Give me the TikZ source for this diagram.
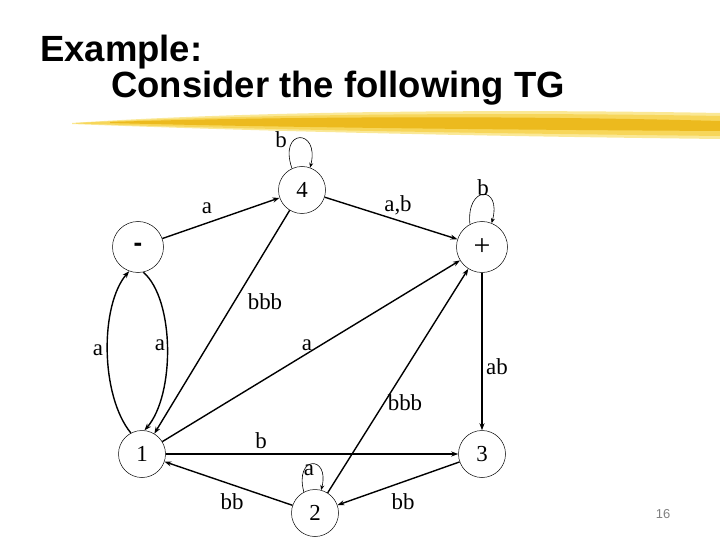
\documentclass[tikz,border=0pt]{standalone}
\usepackage{fontspec}
\setmainfont{Liberation Serif}
\newfontfamily\titlefont{Liberation Sans}
\usetikzlibrary{arrows.meta}
\definecolor{brushA}{RGB}{236,186,30}
\definecolor{brushB}{RGB}{247,214,90}
\definecolor{brushC}{RGB}{250,232,150}
\begin{document}
\begin{tikzpicture}[x=1bp,y=-1bp,
  state/.style={circle,draw,line width=0.5bp,minimum size=47bp,inner sep=0pt,font=\fontsize{23}{23}\selectfont},
  bigstate/.style={state,minimum size=51bp},
  edge/.style={line width=1.4bp,-{Stealth[length=7bp,width=5bp]}},
  loopedge/.style={line width=0.6bp,-{Stealth[length=5bp,width=4bp]}},
  lab/.style={font=\fontsize{23}{23}\selectfont,inner sep=0pt},
  title/.style={anchor=base west,inner sep=0pt,font=\titlefont\bfseries\fontsize{36.6}{36.6}\selectfont}]
\useasboundingbox (0,0) rectangle (720,540);
% title
\node[title] (t1) at (40,62) {Example:};
\node[title] (t2) at (111,98) {Consider the following TG};
% brush stroke
\fill[brushC] (72,123) .. controls (250,111) and (500,109) .. (720,113) -- (720,139) .. controls (550,137) and (300,133) .. (72,124) -- cycle;
\fill[brushB] (76,123) .. controls (250,114) and (500,112) .. (720,116) -- (720,136) .. controls (550,134) and (300,131) .. (76,123.5) -- cycle;
\fill[brushA] (110,122) .. controls (260,117) and (500,115) .. (720,121) -- (720,131) .. controls (550,130) and (300,128) .. (110,123) -- cycle;
% states
\node[state] (n4) at (302,190) {4};
\node[bigstate] (m) at (138,247) {\titlefont\bfseries\fontsize{26}{26}\selectfont -};
\node[bigstate] (p) at (482,247) {\fontsize{30}{30}\selectfont +};
\node[state] (n1) at (142,454) {1};
\node[state] (n2) at (315,513) {2};
\node[state] (n3) at (482,454) {3};
% edges
\draw[edge] (m) -- (n4);
\draw[edge] (n4) -- (p);
\draw[edge] (n4) -- (n1);
\draw[edge] (n1) -- (p);
\draw[edge] (n2) -- (p);
\draw[edge] (p) -- (n3);
\draw[edge] (n1) -- (n3);
\draw[edge] (n3) -- (n2);
\draw[edge] (n2) -- (n1);
\draw[edge] (n1.118) .. controls (100,395) and (100,305) .. (m.250);
\draw[edge] (m.282) .. controls (175,300) and (175,395) .. (n1.84);
% loops
\draw[loopedge] (n4.115) .. controls (278,128) and (320,128) .. (n4.70);
\draw[loopedge] (p.118) .. controls (466,185) and (502,185) .. (p.68);
\draw[loopedge] (n2.118) .. controls (294,455) and (330,455) .. (n2.75);
% labels
\node[lab] (lb4) at (281,140) {b};
\node[lab] (la1) at (207,208) {a};
\node[lab] (lab2) at (398,205) {a,b};
\node[lab] (lbp) at (483,188) {b};
\node[lab] (lbbb1) at (265,302) {bbb};
\node[lab] (lal) at (98,350) {a};
\node[lab] (lar) at (160,345) {a};
\node[lab] (lam) at (307,345) {a};
\node[lab] (lab) at (497,367) {ab};
\node[lab] (lbbb2) at (405,403) {bbb};
\node[lab] (lb13) at (261,441) {b};
\node[lab] (la2) at (309,470) {a};
\node[lab] (lbbl) at (232,502) {bb};
\node[lab] (lbbr) at (403,502) {bb};
\node[text=gray,inner sep=0pt,font=\titlefont\fontsize{13}{13}\selectfont] (pg) at (663,514) {16};
\end{tikzpicture}
\end{document}
